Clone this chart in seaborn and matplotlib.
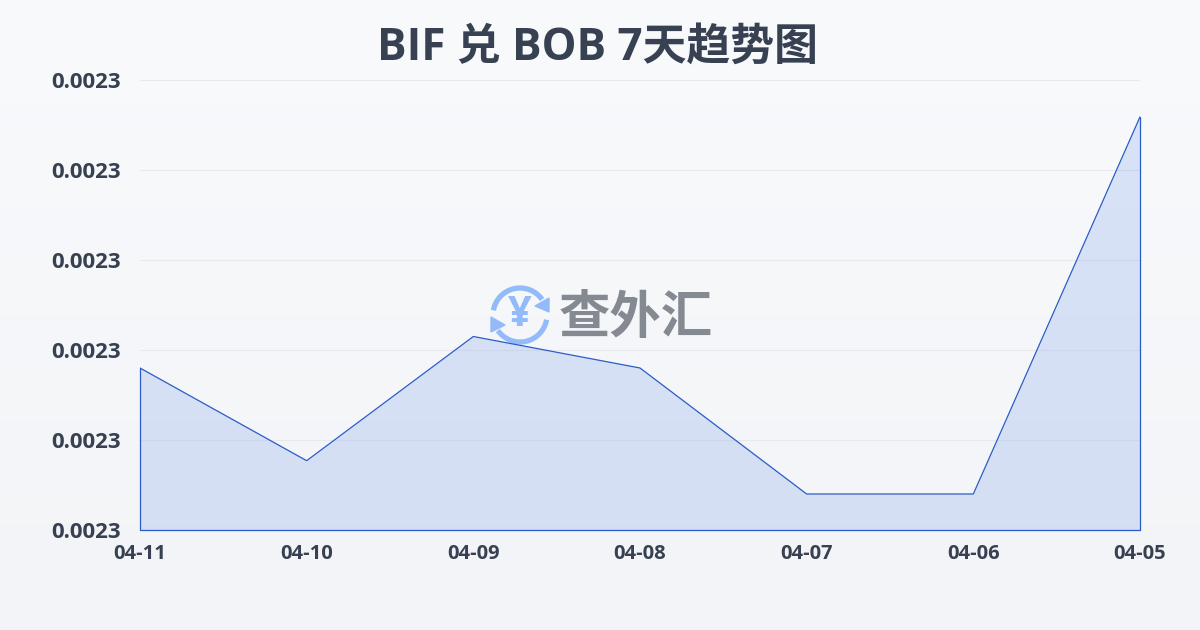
import numpy as np
import matplotlib
matplotlib.use("Agg")
import matplotlib.pyplot as plt
import pandas as pd
import seaborn as sns
from matplotlib.patches import Arc, Polygon

dates = ['04-11', '04-10', '04-09', '04-08', '04-07', '04-06', '04-05']
rates = [0.0023180, 0.0023077, 0.0023215, 0.0023180, 0.0023040, 0.0023040, 0.0023459]
y_ticks = [0.00230, 0.00231, 0.00232, 0.00233, 0.00234, 0.00235]
y_labels = ['0.0023'] * 6
title = 'BIF 兑 BOB 7天趋势图'
logo_text = '查外汇'

sns.set_theme(style='white')
plt.rcParams['font.family'] = ['Open Sans', 'Noto Sans CJK SC', 'DejaVu Sans']

dark = '#374151'
blue = '#2a5bc8'

df = pd.DataFrame({'date': dates, 'rate': rates})

fig = plt.figure(figsize=(12, 6.3), dpi=100)

# background gradient
bg = fig.add_axes([0, 0, 1, 1], zorder=0)
bg.imshow(np.linspace(0, 1, 256).reshape(-1, 1), aspect='auto',
          cmap=matplotlib.colors.LinearSegmentedColormap.from_list('bg', ['#f8fafc', '#f2f4f7']))
bg.axis('off')

ax = fig.add_axes([140 / 1200, 1 - 530 / 630, 1000 / 1200, 450 / 630], zorder=2)
ax.patch.set_alpha(0)

sns.lineplot(data=df, x='date', y='rate', sort=False, color=blue, linewidth=0.9, ax=ax, zorder=4)
ax.fill_between(range(len(dates)), rates, y_ticks[0], facecolor='#3b70e2', alpha=0.16, linewidth=0, zorder=3)
ax.plot([0, 0], [y_ticks[0], rates[0]], color=blue, lw=0.9, zorder=4, clip_on=False)
ax.plot([6, 6], [y_ticks[0], rates[-1]], color=blue, lw=0.9, zorder=4, clip_on=False)
ax.plot([0, 6], [y_ticks[0], y_ticks[0]], color=blue, lw=0.9, zorder=4, clip_on=False)

ax.set_xlim(0, 6)
ax.set_ylim(y_ticks[0], y_ticks[-1])
ax.set_yticks(y_ticks)
ax.set_yticklabels(y_labels)
ax.set_xlabel('')
ax.set_ylabel('')
ax.grid(axis='y', color='#e7e9ed', lw=0.8, zorder=1)
ax.set_axisbelow(True)
sns.despine(ax=ax, left=True, bottom=True)

ax.tick_params(axis='x', length=8, width=0.8, color='#e8e8dc', pad=2, labelsize=14.5, labelcolor=dark)
ax.tick_params(axis='y', length=0, labelsize=16, labelcolor=dark)
for t in ax.get_xticklabels():
    t.set_fontweight('bold')
for t in ax.get_yticklabels():
    t.set_fontweight('bold')
    t.set_horizontalalignment('left')
    t.set_x(-84 / 1000)
    t.set_verticalalignment('center_baseline')

fig.text(0.498, 1 - 48 / 630, title, ha='center', va='center', fontsize=31.6,
         fontweight='bold', color=dark, zorder=5)

# watermark, pixel coordinates
wm = fig.add_axes([0, 0, 1, 1], zorder=1)
wm.set_xlim(0, 1200)
wm.set_ylim(630, 0)
wm.axis('off')
wm.patch.set_alpha(0)
logo_blue = '#93bbf9'
wm.add_patch(Arc((520, 315), 54, 54, theta1=190, theta2=325, color=logo_blue, lw=3.8))
wm.add_patch(Arc((520, 315), 54, 54, theta1=10, theta2=145, color=logo_blue, lw=3.8))
wm.add_patch(Polygon([[549, 298], [549, 312], [535, 306]], color=logo_blue))
wm.add_patch(Polygon([[491, 317], [491, 332], [505, 325]], color=logo_blue))
wm.text(520, 315, '¥', ha='center', va='center', fontsize=30, fontweight='bold',
        color=logo_blue)
wm.text(636, 318, logo_text, ha='center', va='center', fontsize=37, fontweight='bold',
        color='#858a92', family='Noto Sans CJK SC')

fig.savefig('out.png', dpi=100)
